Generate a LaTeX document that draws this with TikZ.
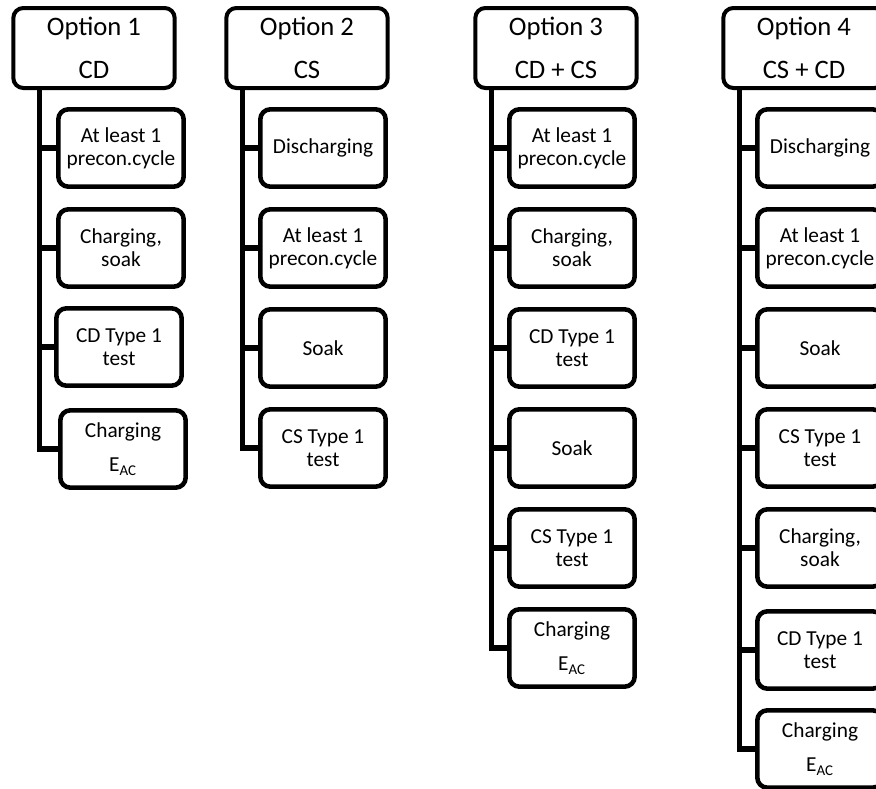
\documentclass[tikz,border=0pt]{standalone}
\usepackage{fontspec}
\setmainfont{Carlito}
\tikzset{
  chart head/.style={draw=black,line width=3pt,rounded corners=7.5pt,fill=white,
    minimum width=121pt,minimum height=60pt,inner sep=0pt,align=center,
    font=\fontsize{20}{32}\selectfont},
  chart step/.style={draw=black,line width=3.4pt,rounded corners=7.5pt,fill=white,
    minimum width=94pt,minimum height=58pt,inner sep=0pt,align=center,
    font=\fontsize{16}{17.5}\selectfont},
  chart link/.style={line width=4pt,draw=black}
}

\begin{document}
\begin{tikzpicture}[x=0.75pt,y=-0.75pt]
    \useasboundingbox (0,0) rectangle (876,789);
    \clip (0,0) rectangle (876,789);
    % option 1
    \node[chart head] (o1) at (94,48) {Option 1\\CD};
    \node[chart step] (o1a) at (121,148) {At least 1\\precon.cycle};
    \node[chart step] (o1b) at (121,248) {Charging,\\soak};
    \node[chart step] (o1c) at (119,347) {CD Type 1\\test};
    \node[chart step] (o1d) at (123,449) {Charging\\[8.5pt]E\textsubscript{AC}};
    \path (o1.south west) ++(28,0) coordinate (s1);
    \draw[chart link] (s1) |- (o1d.west);
    \draw[chart link] (s1 |- o1a.west) -- (o1a.west);
    \draw[chart link] (s1 |- o1b.west) -- (o1b.west);
    \draw[chart link] (s1 |- o1c.west) -- (o1c.west);
    % option 2
    \node[chart head] (o2) at (307,48) {Option 2\\CS};
    \node[chart step] (o2a) at (323,148) {Discharging};
    \node[chart step] (o2b) at (323,248) {At least 1\\precon.cycle};
    \node[chart step] (o2c) at (323,348) {Soak};
    \node[chart step] (o2d) at (323,448) {CS Type 1\\test};
    \path (o2.south west) ++(18,0) coordinate (s2);
    \draw[chart link] (s2) |- (o2d.west);
    \draw[chart link] (s2 |- o2a.west) -- (o2a.west);
    \draw[chart link] (s2 |- o2b.west) -- (o2b.west);
    \draw[chart link] (s2 |- o2c.west) -- (o2c.west);
    % option 3
    \node[chart head] (o3) at (556,48) {Option 3\\CD + CS};
    \node[chart step] (o3a) at (572,148) {At least 1\\precon.cycle};
    \node[chart step] (o3b) at (572,248) {Charging,\\soak};
    \node[chart step] (o3c) at (572,348) {CD Type 1\\test};
    \node[chart step] (o3d) at (572,448) {Soak};
    \node[chart step] (o3e) at (572,548) {CS Type 1\\test};
    \node[chart step] (o3f) at (572,648) {Charging\\[8.5pt]E\textsubscript{AC}};
    \path (o3.south west) ++(18,0) coordinate (s3);
    \draw[chart link] (s3) |- (o3f.west);
    \draw[chart link] (s3 |- o3a.west) -- (o3a.west);
    \draw[chart link] (s3 |- o3b.west) -- (o3b.west);
    \draw[chart link] (s3 |- o3c.west) -- (o3c.west);
    \draw[chart link] (s3 |- o3d.west) -- (o3d.west);
    \draw[chart link] (s3 |- o3e.west) -- (o3e.west);
    % option 4
    \node[chart head] (o4) at (804,48) {Option 4\\CS + CD};
    \node[chart step] (o4a) at (820,148) {Discharging};
    \node[chart step] (o4b) at (820,248) {At least 1\\precon.cycle};
    \node[chart step] (o4c) at (820,348) {Soak};
    \node[chart step] (o4d) at (820,448) {CS Type 1\\test};
    \node[chart step] (o4e) at (820,548) {Charging,\\soak};
    \node[chart step] (o4f) at (820,650) {CD Type 1\\test};
    \node[chart step] (o4g) at (820,749) {Charging\\[8.5pt]E\textsubscript{AC}};
    \path (o4.south west) ++(18,0) coordinate (s4);
    \draw[chart link] (s4) |- (o4g.west);
    \draw[chart link] (s4 |- o4a.west) -- (o4a.west);
    \draw[chart link] (s4 |- o4b.west) -- (o4b.west);
    \draw[chart link] (s4 |- o4c.west) -- (o4c.west);
    \draw[chart link] (s4 |- o4d.west) -- (o4d.west);
    \draw[chart link] (s4 |- o4e.west) -- (o4e.west);
    \draw[chart link] (s4 |- o4f.west) -- (o4f.west);
  \end{tikzpicture}
\end{document}
